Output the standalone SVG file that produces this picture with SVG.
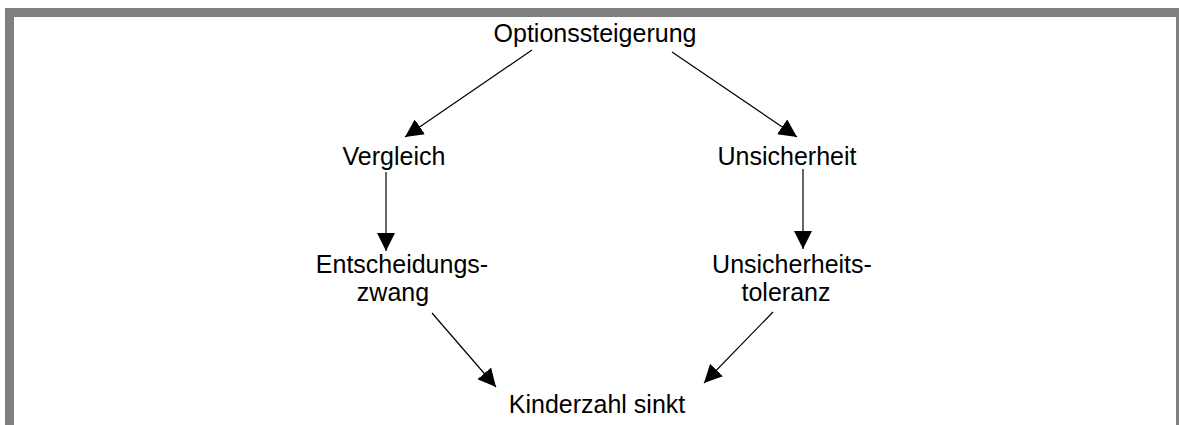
<svg xmlns="http://www.w3.org/2000/svg" width="1179" height="425" viewBox="0 0 1179 425">
<style>
.t{font-family:"Liberation Sans",Arial,sans-serif;font-size:25px;fill:#000;text-anchor:middle}
.c{stroke:#000;stroke-width:1.2;fill:none;marker-end:url(#ah)}
.f{fill:#808080}
</style>
<defs>
<marker id="ah" markerUnits="userSpaceOnUse" markerWidth="20" markerHeight="18" refX="18" refY="9" orient="auto">
<path d="M0,0 L18,9 L0,18 z" fill="#000"/>
</marker>
</defs>
<rect width="1179" height="425" fill="#fff"/>
<g id="frame">
<rect class="f" x="5" y="8" width="1174" height="9"/>
<rect class="f" x="5" y="8" width="9" height="417"/>
<rect class="f" x="1176" y="17" width="3" height="408"/>
</g>
<g id="connectors">
<line class="c" x1="532" y1="50" x2="405" y2="137"/>
<line class="c" x1="672" y1="52" x2="797" y2="137"/>
<line class="c" x1="386" y1="172" x2="386" y2="251"/>
<line class="c" x1="803" y1="169" x2="803" y2="249"/>
<line class="c" x1="432" y1="313" x2="496" y2="387"/>
<line class="c" x1="773" y1="312" x2="704" y2="383"/>
</g>
<g id="n1"><text class="t" x="595" y="42">Optionssteigerung</text></g>
<g id="n2"><text class="t" x="394" y="165">Vergleich</text></g>
<g id="n3"><text class="t" x="787" y="165">Unsicherheit</text></g>
<g id="n4"><text class="t" x="402" y="273">Entscheidungs-</text><text class="t" x="393" y="301">zwang</text></g>
<g id="n5"><text class="t" x="792" y="273">Unsicherheits-</text><text class="t" x="786" y="301">toleranz</text></g>
<g id="n6"><text class="t" x="597" y="413">Kinderzahl sinkt</text></g>
</svg>
